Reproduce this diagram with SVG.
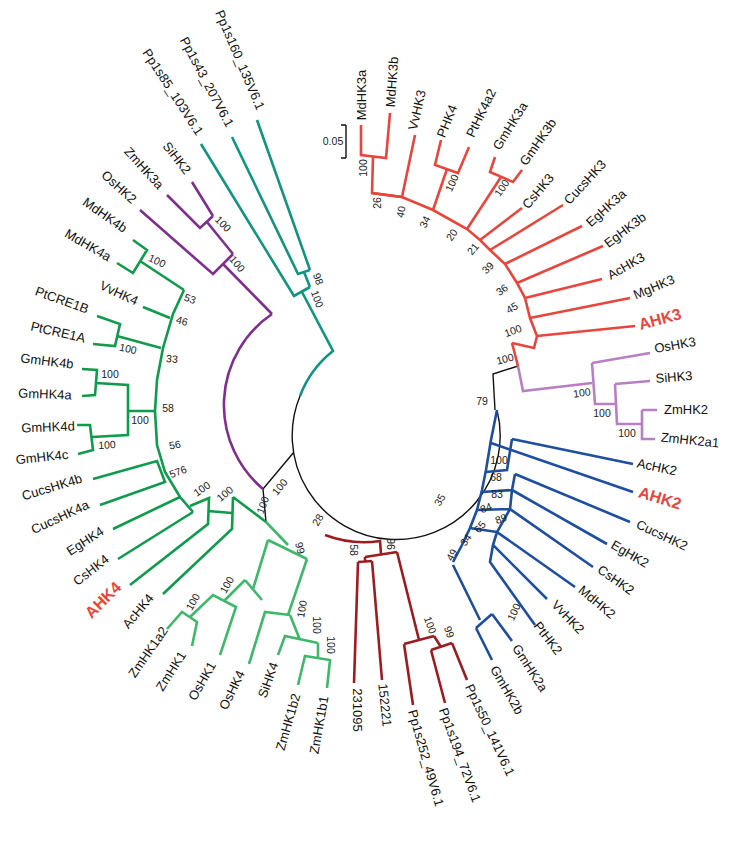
<svg xmlns="http://www.w3.org/2000/svg" width="735" height="843" viewBox="0 0 735 843">
<style>
text{font-family:"Liberation Sans",Arial,sans-serif;fill:#111}
.l{font-size:13px;text-anchor:middle}
.a{font-size:16px;font-weight:bold;fill:#e8463c;text-anchor:middle}
.b{font-size:10.5px;text-anchor:middle;fill:#222}
.br path{fill:none;stroke-width:2.6;stroke-linejoin:miter;stroke-linecap:butt}
.k{stroke:#111;stroke-width:1.4!important}
.rd{stroke:#e8463c}.pu{stroke:#7e2f8e}.lp{stroke:#b77fc4}.te{stroke:#119480}
.dg{stroke:#0f9a4c}.lg{stroke:#3fb86b}.dr{stroke:#9c1c20}.bl{stroke:#1d4f9e}
</style>
<rect width="735" height="843" fill="#fff"/>
<g id="connectors" class="br">
<path class="te" d="M257,120L310,270M232,137L298,274L310,270M304,272L310,287M201,144L294,296L310,287M302,292L333,351A104,104 0 0,0 300,396"/>
<path class="k" d="M300,396A104,104 0 1,0 497,410M518,366L493,374L495,410M294,452L263,489L266,522"/>
<path class="pu" d="M192,182L213,216M167,195L200,228L213,216M207,222L233,254M140,210L213,274L233,254M223,264L272,314M263,489A110,110 0 0,1 272,314"/>
<path class="rd" d="M361,125L361,155L386,158L390,113M373,157L372,193L402,197L415,135M441,140L435,165L458,173L469,147M447,169L433,210M495,157L490,172L513,182L522,170M501,177L467,229M522,208L480,240M563,205L490,250M582,226L505,264M603,246L517,283M602,279L525,298M630,298L530,318M635,326L537,336"/>
<path class="rd" stroke-width="4" d="M372,193L402,197L433,210L467,229L480,240L490,250L505,264L517,283L525,298L530,318L537,336L534,348L512,343"/>
<path class="rd" d="M512,343L518,366"/>
<path class="lp" d="M518,366L523,391L592,383M592,363L650,353M592,363L595,404L615,404M615,384L650,381M615,384L617,424L642,424M642,410L657,410M642,410L642,439L655,439"/>
<path class="bl" d="M497,410L491,440L486,470L482,490L477,510L470,528L462,545L453,562M491,443L633,492M512,439L633,464M512,439L507,470L486,472M515,474L630,522M515,474L512,490L482,492M512,490L607,544M512,490L510,509L593,567M510,509L497,532L575,587M497,532L493,545L547,599M493,545L490,562L535,625M477,510L510,509M470,528L497,532M453,565L480,620M476,628L492,614M492,614L512,641M476,628L492,660"/>
<path class="dg" d="M133,240L147,250L133,273L117,263M140,261L184,290M143,307L170,318M97,316L120,324L115,346L93,344M117,336L161,348M82,369L97,370L95,395L82,396M96,383L128,385L128,435L92,437M77,425L90,425L93,450L78,454M128,411L155,411M93,479L157,461L165,482L100,505M113,529L180,497M118,559L193,512M190,506L209,498L208,524L130,585M208,511L232,513M233,497L232,529L163,594M233,497L266,522"/>
<path class="dg" stroke-width="4" d="M184,290L173,314L163,348L157,380L155,411L157,445L165,472L180,497L193,512"/>
<path class="lg" d="M266,522L288,545M268,540L307,559M268,540L253,589M245,580L262,600M167,629L182,612L197,622L192,646M190,617L213,595L236,607L220,655M224,601L245,580M249,664L265,612L290,615M288,615L307,559M278,655L285,636L318,643M300,640L290,615M298,685L305,656L330,660L327,688M318,658L318,643"/>
<path class="dr" d="M325,535A110,110 0 0,0 380,541L381,554M365,557L397,552M365,557L365,561M358,562L372,561M358,562L354,683M372,561L382,680M397,552L419,640M404,644L434,636M404,644L413,705M434,636L441,647M431,650L452,643M431,650L445,703M452,643L467,680"/>
<path class="k" d="M346,125L346,158M341,125L346,125M341,158L346,158"/>
</g>
<text class="b" x="333" y="145">0.05</text>
<g id="labels">
<text class="l" transform="translate(361,95) rotate(-90)" dy="4.5">MdHK3a</text>
<text class="l" transform="translate(392,82) rotate(-86)" dy="4.5">MdHK3b</text>
<text class="l" transform="translate(417,110) rotate(-77)" dy="4.5">VvHK3</text>
<text class="l" transform="translate(447,121) rotate(-68)" dy="4.5">PHK4</text>
<text class="l" transform="translate(481,113) rotate(-64)" dy="4.5">PtHK4a2</text>
<text class="l" transform="translate(510,126) rotate(-58)" dy="4.5">GmHK3a</text>
<text class="l" transform="translate(538,142) rotate(-55)" dy="4.5">GmHK3b</text>
<text class="l" transform="translate(538,191) rotate(-50)" dy="4.5">CsHK3</text>
<text class="l" transform="translate(585,182) rotate(-47)" dy="4.5">CucsHK3</text>
<text class="l" transform="translate(606,208) rotate(-42)" dy="4.5">EgHK3a</text>
<text class="l" transform="translate(625,230) rotate(-37)" dy="4.5">EgHK3b</text>
<text class="l" transform="translate(626,266) rotate(-30)" dy="4.5">AcHK3</text>
<text class="l" transform="translate(654,287) rotate(-23)" dy="4.5">MgHK3</text>
<text class="a" transform="translate(660,319) rotate(-15)" dy="5.5">AHK3</text>
<text class="l" transform="translate(675,345) rotate(-10)" dy="4.5">OsHK3</text>
<text class="l" transform="translate(674,377) rotate(-5)" dy="4.5">SiHK3</text>
<text class="l" transform="translate(686,409) rotate(0)" dy="4.5">ZmHK2</text>
<text class="l" transform="translate(690,440) rotate(6)" dy="4.5">ZmHK2a1</text>
<text class="l" transform="translate(657,467) rotate(12)" dy="4.5">AcHK2</text>
<text class="a" transform="translate(660,498) rotate(17)" dy="5.5">AHK2</text>
<text class="l" transform="translate(662,535) rotate(25)" dy="4.5">CucsHK2</text>
<text class="l" transform="translate(630,554) rotate(30)" dy="4.5">EgHK2</text>
<text class="l" transform="translate(616,580) rotate(35)" dy="4.5">CsHK2</text>
<text class="l" transform="translate(597,602) rotate(40)" dy="4.5">MdHK2</text>
<text class="l" transform="translate(568,617) rotate(46)" dy="4.5">VvHK2</text>
<text class="l" transform="translate(548,638) rotate(52)" dy="4.5">PtHK2</text>
<text class="l" transform="translate(530,668) rotate(57)" dy="4.5">GmHK2a</text>
<text class="l" transform="translate(507,690) rotate(60)" dy="4.5">GmHK2b</text>
<text class="l" transform="translate(490,730) rotate(65)" dy="4.5">Pp1s50_141V6.1</text>
<text class="l" transform="translate(460,755) rotate(70)" dy="4.5">Pp1s194_72V6.1</text>
<text class="l" transform="translate(426,758) rotate(74)" dy="4.5">Pp1s252_49V6.1</text>
<text class="l" transform="translate(385,705) rotate(84)" dy="4.5">152221</text>
<text class="l" transform="translate(357,710) rotate(90)" dy="4.5">231095</text>
<text class="l" transform="translate(319,725) rotate(-80)" dy="4.5">ZmHK1b1</text>
<text class="l" transform="translate(288,722) rotate(-74)" dy="4.5">ZmHK1b2</text>
<text class="l" transform="translate(268,680) rotate(-70)" dy="4.5">SiHK4</text>
<text class="l" transform="translate(232,690) rotate(-64)" dy="4.5">OsHK4</text>
<text class="l" transform="translate(202,681) rotate(-60)" dy="4.5">OsHK1</text>
<text class="l" transform="translate(171,671) rotate(-57)" dy="4.5">ZmHK1</text>
<text class="l" transform="translate(148,652) rotate(-55)" dy="4.5">ZmHK1a2</text>
<text class="l" transform="translate(138,611) rotate(-50)" dy="4.5">AcHK4</text>
<text class="a" transform="translate(103,600) rotate(-45)" dy="5.5">AHK4</text>
<text class="l" transform="translate(91,570) rotate(-38)" dy="4.5">CsHK4</text>
<text class="l" transform="translate(85,541) rotate(-33)" dy="4.5">EgHK4</text>
<text class="l" transform="translate(60,517) rotate(-25)" dy="4.5">CucsHK4a</text>
<text class="l" transform="translate(52,487) rotate(-17)" dy="4.5">CucsHK4b</text>
<text class="l" transform="translate(42,457) rotate(-6)" dy="4.5">GmHK4c</text>
<text class="l" transform="translate(48,427) rotate(-2)" dy="4.5">GmHK4d</text>
<text class="l" transform="translate(45,394) rotate(2)" dy="4.5">GmHK4a</text>
<text class="l" transform="translate(47,361) rotate(7)" dy="4.5">GmHK4b</text>
<text class="l" transform="translate(58,332) rotate(13)" dy="4.5">PtCRE1A</text>
<text class="l" transform="translate(62,300) rotate(20)" dy="4.5">PtCRE1B</text>
<text class="l" transform="translate(119,293) rotate(25)" dy="4.5">VvHK4</text>
<text class="l" transform="translate(88,245) rotate(30)" dy="4.5">MdHK4a</text>
<text class="l" transform="translate(105,215) rotate(35)" dy="4.5">MdHK4b</text>
<text class="l" transform="translate(119,187) rotate(42)" dy="4.5">OsHK2</text>
<text class="l" transform="translate(144,168) rotate(48)" dy="4.5">ZmHK3a</text>
<text class="l" transform="translate(177,158) rotate(52)" dy="4.5">SiHK2</text>
<text class="l" transform="translate(173,92) rotate(57)" dy="4.5">Pp1s85_103V6.1</text>
<text class="l" transform="translate(207,82) rotate(62)" dy="4.5">Pp1s43_207V6.1</text>
<text class="l" transform="translate(240,60) rotate(67)" dy="4.5">Pp1s160_135V6.1</text>
</g>
<g id="bootstrap">
<text class="b" transform="translate(363,168) rotate(-90)" dy="3.5">100</text>
<text class="b" transform="translate(377,203) rotate(-90)" dy="3.5">26</text>
<text class="b" transform="translate(401,212) rotate(-80)" dy="3.5">40</text>
<text class="b" transform="translate(425,222) rotate(-65)" dy="3.5">34</text>
<text class="b" transform="translate(452,183) rotate(-65)" dy="3.5">100</text>
<text class="b" transform="translate(452,235) rotate(-55)" dy="3.5">20</text>
<text class="b" transform="translate(502,188) rotate(-55)" dy="3.5">100</text>
<text class="b" transform="translate(473,249) rotate(-50)" dy="3.5">21</text>
<text class="b" transform="translate(488,268) rotate(-45)" dy="3.5">39</text>
<text class="b" transform="translate(502,290) rotate(-35)" dy="3.5">36</text>
<text class="b" transform="translate(512,308) rotate(-30)" dy="3.5">45</text>
<text class="b" transform="translate(513,331) rotate(-20)" dy="3.5">100</text>
<text class="b" transform="translate(505,359) rotate(-15)" dy="3.5">100</text>
<text class="b" transform="translate(582,393) rotate(-8)" dy="3.5">100</text>
<text class="b" transform="translate(602,413)" dy="3.5">100</text>
<text class="b" transform="translate(627,433)" dy="3.5">100</text>
<text class="b" transform="translate(482,401)" dy="3.5">79</text>
<text class="b" transform="translate(499,460)" dy="3.5">100</text>
<text class="b" transform="translate(496,477)" dy="3.5">68</text>
<text class="b" transform="translate(497,494)" dy="3.5">83</text>
<text class="b" transform="translate(486,508) rotate(-20)" dy="3.5">84</text>
<text class="b" transform="translate(501,519) rotate(-20)" dy="3.5">89</text>
<text class="b" transform="translate(480,527) rotate(-50)" dy="3.5">65</text>
<text class="b" transform="translate(466,540) rotate(-55)" dy="3.5">34</text>
<text class="b" transform="translate(452,555) rotate(-60)" dy="3.5">49</text>
<text class="b" transform="translate(514,612) rotate(-65)" dy="3.5">100</text>
<text class="b" transform="translate(440,500) rotate(-60)" dy="3.5">35</text>
<text class="b" transform="translate(318,520) rotate(-60)" dy="3.5">28</text>
<text class="b" transform="translate(353,550) rotate(90)" dy="3.5">58</text>
<text class="b" transform="translate(390,544) rotate(90)" dy="3.5">96</text>
<text class="b" transform="translate(430,625) rotate(70)" dy="3.5">100</text>
<text class="b" transform="translate(449,632) rotate(70)" dy="3.5">99</text>
<text class="b" transform="translate(280,487) rotate(-50)" dy="3.5">100</text>
<text class="b" transform="translate(263,505) rotate(-70)" dy="3.5">100</text>
<text class="b" transform="translate(300,548) rotate(75)" dy="3.5">99</text>
<text class="b" transform="translate(302,609) rotate(-80)" dy="3.5">100</text>
<text class="b" transform="translate(316,625) rotate(90)" dy="3.5">100</text>
<text class="b" transform="translate(330,645) rotate(90)" dy="3.5">100</text>
<text class="b" transform="translate(193,602) rotate(-60)" dy="3.5">100</text>
<text class="b" transform="translate(227,585) rotate(-60)" dy="3.5">100</text>
<text class="b" transform="translate(202,489) rotate(-35)" dy="3.5">100</text>
<text class="b" transform="translate(225,494) rotate(-40)" dy="3.5">100</text>
<text class="b" transform="translate(178,472) rotate(-20)" dy="3.5">576</text>
<text class="b" transform="translate(175,445) rotate(-10)" dy="3.5">56</text>
<text class="b" transform="translate(107,445) rotate(-3)" dy="3.5">100</text>
<text class="b" transform="translate(140,420)" dy="3.5">100</text>
<text class="b" transform="translate(168,408)" dy="3.5">58</text>
<text class="b" transform="translate(110,374)" dy="3.5">100</text>
<text class="b" transform="translate(172,359) rotate(5)" dy="3.5">33</text>
<text class="b" transform="translate(128,349) rotate(12)" dy="3.5">100</text>
<text class="b" transform="translate(182,321) rotate(15)" dy="3.5">46</text>
<text class="b" transform="translate(190,299) rotate(20)" dy="3.5">53</text>
<text class="b" transform="translate(157,261) rotate(25)" dy="3.5">100</text>
<text class="b" transform="translate(223,224) rotate(45)" dy="3.5">100</text>
<text class="b" transform="translate(237,264) rotate(50)" dy="3.5">100</text>
<text class="b" transform="translate(318,279) rotate(70)" dy="3.5">98</text>
<text class="b" transform="translate(317,299) rotate(70)" dy="3.5">100</text>
</g>
</svg>
